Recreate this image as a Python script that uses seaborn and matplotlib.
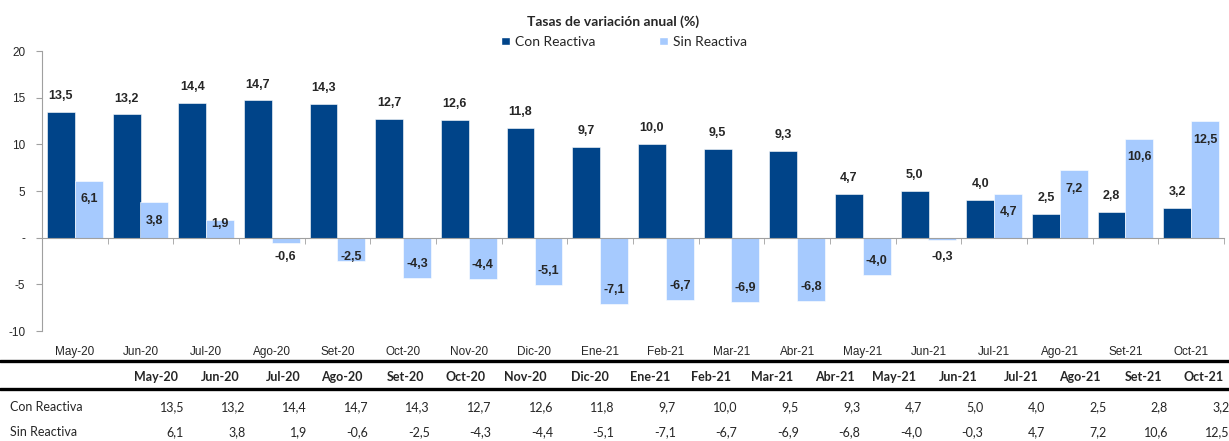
import numpy as np
import pandas as pd
import matplotlib.pyplot as plt
import seaborn as sns
from matplotlib.lines import Line2D
from matplotlib.patches import Patch

meses = ["May-20", "Jun-20", "Jul-20", "Ago-20", "Set-20", "Oct-20", "Nov-20", "Dic-20", "Ene-21",
         "Feb-21", "Mar-21", "Abr-21", "May-21", "Jun-21", "Jul-21", "Ago-21", "Set-21", "Oct-21"]
con_reactiva = [13.5, 13.2, 14.4, 14.7, 14.3, 12.7, 12.6, 11.8, 9.7, 10.0, 9.5, 9.3, 4.7, 5.0, 4.0, 2.5, 2.8, 3.2]
sin_reactiva = [6.1, 3.8, 1.9, -0.6, -2.5, -4.3, -4.4, -5.1, -7.1, -6.7, -6.9, -6.8, -4.0, -0.3, 4.7, 7.2, 10.6, 12.5]
series = ["Con Reactiva", "Sin Reactiva"]
colores = ["#004489", "#A6CAFE"]

def fmt(v):
    return f"{v:.1f}".replace(".", ",")

df = pd.DataFrame({
    "mes": meses * 2,
    "valor": con_reactiva + sin_reactiva,
    "serie": [series[0]] * len(meses) + [series[1]] * len(meses),
})

sns.set_style("white")
plt.rcParams['font.family'] = ['Liberation Sans', 'DejaVu Sans']
calibri = ['Lato', 'DejaVu Sans']

fig = plt.figure(figsize=(12.29, 4.41), dpi=100)
ax = fig.add_axes([42 / 1229, 1 - 331 / 441, (1224 - 42) / 1229, 280 / 441])

sns.barplot(data=df, x="mes", y="valor", hue="serie", palette=colores, width=0.85,
            gap=0, saturation=1, ax=ax, legend=False)
for p in ax.patches:
    p.set_edgecolor("white")
    p.set_linewidth(0.4)

ax.set_ylim(-10, 20)
ax.set_xlim(-0.5, len(meses) - 0.5)
ax.set_yticks([20, 15, 10, 5, 0, -5, -10])
ax.set_yticklabels(["20", "15", "10", "5", "-", "-5", "-10"])
ax.set_xlabel("")
ax.set_ylabel("")

# spines
for s in ["top", "right"]:
    ax.spines[s].set_visible(False)
ax.spines["left"].set_color("#a0a0a0")
ax.spines["bottom"].set_color("#a0a0a0")
ax.spines["bottom"].set_position(("data", 0))
ax.tick_params(axis="y", direction="out", length=4, color="#a0a0a0", labelsize=8.5, pad=8, left=True)
ax.set_xticks(np.arange(len(meses)) + 0.5, minor=True)
ax.tick_params(axis="x", which="minor", direction="out", length=4, color="#a0a0a0", bottom=True)
ax.tick_params(axis="x", which="major", length=0, labelsize=8.5, pad=78)

# data labels
bw = 0.425
for i in range(len(meses)):
    c = con_reactiva[i]
    ax.text(i - bw / 2, c + 1.7, fmt(c), ha="center", va="center", fontsize=9, fontweight="bold")
    s = sin_reactiva[i]
    ys = max(s - 2.0, 1.5) if s > 0 else min(s + 1.5, -2.1)
    ax.text(i + bw / 2, ys, fmt(s), ha="center", va="center", fontsize=9, fontweight="bold")

# title and legend
fig.text(0.499, 0.95, "Tasas de variación anual (%)", ha="center", va="center",
         fontsize=10, fontweight="bold", family=calibri)
handles = [Patch(facecolor=colores[0]), Patch(facecolor=colores[1])]
fig.legend(handles, series, loc="center", bbox_to_anchor=(0.508, 0.905), ncol=2, frameon=False,
           prop={"family": calibri, "size": 10}, handlelength=0.6, handleheight=0.6,
           handletextpad=0.4, columnspacing=4.6)

# table below the chart
W, H = 1229, 441
for yl in [361, 389]:
    fig.add_artist(Line2D([0, 1], [1 - yl / H, 1 - yl / H], color="black", lw=2.4,
                          transform=fig.transFigure))
for i, m in enumerate(meses):
    fig.text((178 + 61.5 * i) / W, 1 - 377 / H, m, ha="right", va="center",
             fontsize=9, fontweight="bold", family=calibri)
for row, (name, vals) in enumerate(zip(series, [con_reactiva, sin_reactiva])):
    yy = 1 - (407 + 25 * row) / H
    fig.text(10 / W, yy, name, ha="left", va="center", fontsize=9, family=calibri)
    for i, v in enumerate(vals):
        fig.text((184 + 61.5 * i) / W, yy, fmt(v), ha="right", va="center", fontsize=9, family=calibri)

fig.savefig("out.png", dpi=100)
